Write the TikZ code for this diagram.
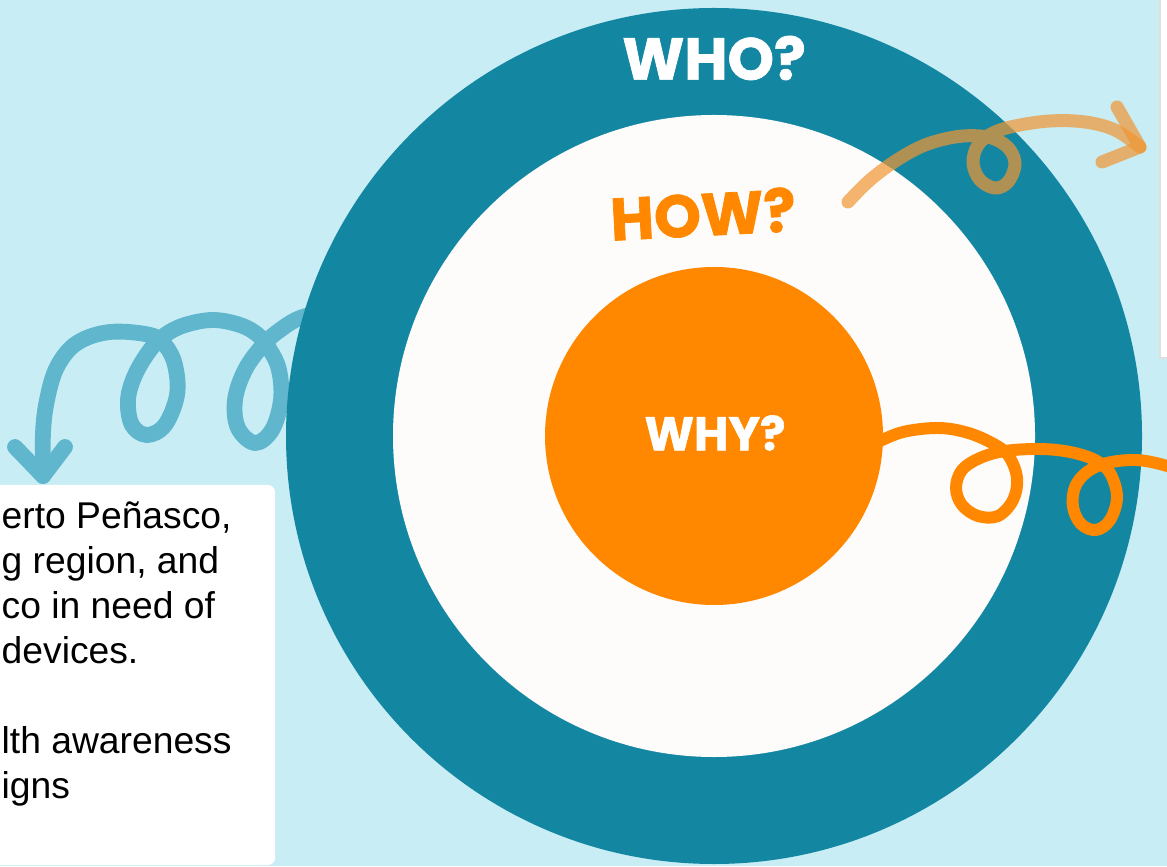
\documentclass[tikz,border=0pt]{standalone}
\usepackage{fontspec}
\setmainfont{Liberation Sans}
\newfontfamily\headfont{Poppins}[BoldFeatures={FakeBold=1.2}]
\definecolor{skyblue}{RGB}{200,237,245}
\definecolor{ringteal}{RGB}{19,135,162}
\definecolor{coreorange}{RGB}{255,136,0}
\definecolor{paleteal}{RGB}{96,182,204}
\definecolor{softorange}{RGB}{240,150,50}
\definecolor{coreface}{RGB}{254,252,250}

\begin{document}
\begin{tikzpicture}[
    squiggle/.style={line width=#1,line cap=round,line join=round},
    question/.style={font=\headfont\bfseries\fontsize{#1}{#1}\selectfont,inner sep=0pt}
  ]
  \useasboundingbox (0,0) rectangle (11.67,8.66);
  \clip (0,0) rectangle (11.67,8.66);
  \fill[skyblue] (0,0) rectangle (11.67,8.66);
  \draw[paleteal,squiggle=4.5pt] plot[smooth,tension=0.6] coordinates {
    (3.30,5.56) (3.00,5.48) (2.80,5.36) (2.63,5.21) (2.45,4.96) (2.35,4.66)
    (2.38,4.38) (2.55,4.23) (2.72,4.36) (2.81,4.66) (2.79,4.96) (2.70,5.16)
    (2.58,5.31) (2.40,5.41) (2.13,5.46) (1.85,5.41) (1.65,5.31) (1.50,5.16)
    (1.35,4.91) (1.28,4.66) (1.32,4.41) (1.47,4.31) (1.65,4.41) (1.77,4.71)
    (1.75,5.01) (1.65,5.21) (1.50,5.31) (1.10,5.34) (0.77,5.23) (0.57,4.99)
    (0.47,4.66) (0.43,4.33) (0.43,3.90)};
  \draw[paleteal,squiggle=4.5pt] (0.15,4.19) -- (0.43,3.90) -- (0.65,4.19);
  \fill[white,rounded corners=2pt] (-0.2,0.01) rectangle (2.75,3.81);
  \draw[gray!25,fill=white] (11.60,5.08) rectangle (11.9,8.8);
  \fill[ringteal] (7.14,4.30) circle (4.28);
  \fill[coreface] (7.14,4.30) circle (3.21);
  \fill[coreorange] (7.14,4.30) circle (1.69);
  \draw[softorange,draw opacity=0.7,squiggle=3.7pt] plot[smooth,tension=0.6] coordinates {
    (8.48,6.64) (8.70,6.86) (8.97,7.06) (9.25,7.21) (9.55,7.29) (9.80,7.30)
    (9.97,7.26) (10.10,7.16) (10.15,7.01) (10.08,6.84) (9.95,6.78) (9.80,6.86)
    (9.73,7.03) (9.78,7.21) (9.93,7.33) (10.15,7.40) (10.50,7.45) (10.85,7.44)
    (11.15,7.36) (11.40,7.19)};
  \draw[softorange,draw opacity=0.7,squiggle=3.7pt] (11.17,7.59) -- (11.40,7.19) -- (11.02,7.04);
  \draw[coreorange,squiggle=3.4pt] plot[smooth,tension=0.6] coordinates {
    (8.78,4.24) (9.03,4.34) (9.37,4.38) (9.65,4.34) (9.90,4.24) (10.08,4.11)
    (10.17,3.88) (10.13,3.66) (9.98,3.50) (9.78,3.50) (9.62,3.61) (9.56,3.78)
    (9.62,3.96) (9.80,4.08) (10.05,4.15) (10.40,4.17) (10.70,4.14) (10.95,4.06)
    (11.10,3.93) (11.17,3.69) (11.10,3.46) (10.96,3.36) (10.81,3.42) (10.73,3.59)
    (10.75,3.79) (10.87,3.94) (11.07,4.03) (11.35,4.06) (11.60,4.02) (11.85,3.94)};
  \node[question=16.8,white] (who) at (7.14,8.08) {WHO?};
  \node[question=17,coreorange,rotate=3] (how) at (7.03,6.52) {HOW?};
  \node[question=13.4,white] (why) at (7.15,4.33) {WHY?};
  \node[anchor=north west,inner sep=0pt,align=left,font=\fontsize{10.6}{12.8}\selectfont]
    (info) at (0.01,3.65) {erto Peñasco,\\g region, and\\co in need of\\devices.\\[12.8pt]lth awareness\\igns};
\end{tikzpicture}
\end{document}
